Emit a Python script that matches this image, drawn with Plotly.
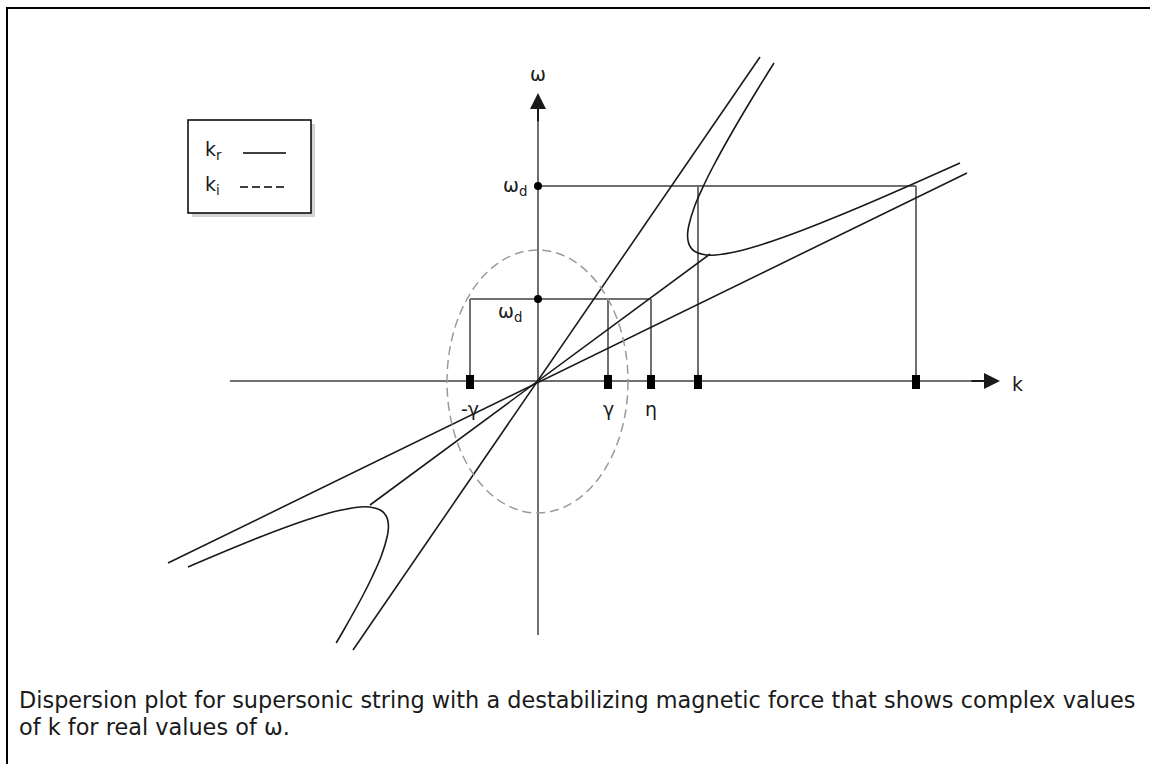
import plotly.graph_objects as go

# Schematic dispersion diagram, units are arbitrary (k to the right, omega up,
# origin where the two axes cross).

# axes extents (tail, tip)
K_AXIS = [-308, 462]
W_AXIS = [-254, 288]

# straight lines through the origin
STEEP_K = [-185, 222]
STEEP_W = [-269, 324]
SHALLOW_K = [-370, 429]
SHALLOW_W = [-182, 208]
MIDDLE_K = [-168, 172]
MIDDLE_W = [-124, 127]

# upper-right branch of k_r(omega)
UPPER_K = [236, 218.6, 194.8, 175.4, 165.4, 156.7, 150.7, 149.6, 150.1, 151.8, 156.1,
           168.4, 177.8, 201.1, 219.2, 234.6, 254.3, 275.3, 324.2, 370.4, 422]
UPPER_W = [318, 290, 250, 215, 195, 175, 155, 147, 140, 135, 130,
           126, 126, 130, 135, 140, 147, 155, 175, 195, 218]

# lower-left branch
LOWER_K = [-201.8, -194.8, -175.4, -165.4, -156.7, -150.7, -149.6, -150.1, -151.8, -156.1,
           -168.4, -177.8, -201.1, -219.2, -234.6, -254.3, -275.3, -324.2, -350]
LOWER_W = [-262, -250, -215, -195, -175, -155, -147, -140, -135, -130,
           -126, -126, -130, -135, -140, -147, -155, -175, -186]

# omega_d levels and the k values they map to
WD_LEVELS = [195, 82]
WD_HIGH_K = [160, 378]
WD_LOW_K = [-68, 70, 113]
TICK_LABELS = ["-γ", "γ", "η"]

# dashed ellipse (imaginary part k_i), semi axes
ELL_K = [-91, 90]
ELL_W = [-132, 131]

CURVE = dict(color="#1a1a1a", width=1.6)
GREY = dict(color="#6f6f6f", width=2)

traces = []

# bracket lines from omega_d down to the k axis
bx, by = [], []
bx += [0, max(WD_HIGH_K), None]
by += [WD_LEVELS[0], WD_LEVELS[0], None]
for k in WD_HIGH_K:
    bx += [k, k, None]
    by += [WD_LEVELS[0], 0, None]
bx += [min(WD_LOW_K), max(WD_LOW_K), None]
by += [WD_LEVELS[1], WD_LEVELS[1], None]
for k in WD_LOW_K:
    bx += [k, k, None]
    by += [WD_LEVELS[1], 0, None]
traces.append(go.Scatter(x=bx, y=by, mode="lines", line=GREY, hoverinfo="skip"))

# axes tails
traces.append(go.Scatter(x=[K_AXIS[0], K_AXIS[1] - 10], y=[0, 0], mode="lines", line=GREY, hoverinfo="skip"))
traces.append(go.Scatter(x=[0, 0], y=[W_AXIS[0], W_AXIS[1] - 10], mode="lines", line=GREY, hoverinfo="skip"))

for xs, ys in [(STEEP_K, STEEP_W), (SHALLOW_K, SHALLOW_W), (MIDDLE_K, MIDDLE_W)]:
    traces.append(go.Scatter(x=xs, y=ys, mode="lines", line=CURVE, hoverinfo="skip"))

traces.append(go.Scatter(x=UPPER_K, y=UPPER_W, mode="lines",
                         line=dict(CURVE, shape="spline", smoothing=1.0), hoverinfo="skip"))
traces.append(go.Scatter(x=LOWER_K, y=LOWER_W, mode="lines",
                         line=dict(CURVE, shape="spline", smoothing=1.0), hoverinfo="skip"))

# omega_d dots
traces.append(go.Scatter(x=[0] * len(WD_LEVELS), y=WD_LEVELS, mode="markers",
                         marker=dict(size=8, color="black"), hoverinfo="skip"))

fig = go.Figure(data=traces)

shapes = []
shapes.append(dict(type="circle", xref="x", yref="y", x0=ELL_K[0], x1=ELL_K[1], y0=ELL_W[0], y1=ELL_W[1],
                   line=dict(color="#9a9a9a", width=1.5, dash="9px,5px")))
for k in WD_HIGH_K + WD_LOW_K:
    shapes.append(dict(type="rect", xref="x", yref="y", x0=k - 4, x1=k + 4, y0=-8, y1=6,
                       fillcolor="black", line=dict(width=0)))

# legend box with drop shadow
shapes.append(dict(type="rect", xref="x", yref="y", x0=-346, x1=-223, y0=164, y1=257,
                   fillcolor="#d4d4d4", line=dict(width=0)))
shapes.append(dict(type="rect", xref="x", yref="y", x0=-350, x1=-227, y0=168, y1=261,
                   fillcolor="white", line=dict(color="black", width=1.5)))
shapes.append(dict(type="line", xref="x", yref="y", x0=-295, x1=-252, y0=228, y1=228,
                   line=dict(color="black", width=1.3)))
shapes.append(dict(type="line", xref="x", yref="y", x0=-298, x1=-252, y0=194, y1=194,
                   line=dict(color="black", width=1.3, dash="8px,4px")))

# outer frame (top and left edges)
shapes.append(dict(type="line", xref="paper", yref="paper", x0=6 / 1150, x1=1, y0=1 - 8 / 764, y1=1 - 8 / 764,
                   line=dict(color="black", width=2)))
shapes.append(dict(type="line", xref="paper", yref="paper", x0=7 / 1150, x1=7 / 1150, y0=0, y1=1 - 8 / 764,
                   line=dict(color="black", width=2)))

FONT = dict(family="DejaVu Sans, Verdana, sans-serif", size=19, color="#1a1a1a")

ann = []
# arrowheads on the axes
ann.append(dict(x=K_AXIS[1], y=0, ax=K_AXIS[1] - 30, ay=0, xref="x", yref="y", axref="x", ayref="y",
                showarrow=True, arrowhead=2, arrowsize=1.6, arrowwidth=2, arrowcolor="#1a1a1a", text=""))
ann.append(dict(x=0, y=W_AXIS[1], ax=0, ay=W_AXIS[1] - 30, xref="x", yref="y", axref="x", ayref="y",
                showarrow=True, arrowhead=2, arrowsize=1.6, arrowwidth=2, arrowcolor="#1a1a1a", text=""))
ann.append(dict(x=K_AXIS[1] + 17, y=-3, text="k", showarrow=False, font=FONT, xanchor="center"))
ann.append(dict(x=0, y=W_AXIS[1] + 19, text="ω", showarrow=False, font=FONT))
ann.append(dict(x=-9, y=WD_LEVELS[0], text="ω<sub>d</sub>", showarrow=False, font=FONT, xanchor="right"))
ann.append(dict(x=-14, y=WD_LEVELS[1] - 13, text="ω<sub>d</sub>", showarrow=False, font=FONT, xanchor="right"))
for k, lab in zip(WD_LOW_K, TICK_LABELS):
    ann.append(dict(x=k, y=-28, text=lab, showarrow=False, font=FONT))
ann.append(dict(x=-335, y=231, text="k<sub>r</sub>", showarrow=False, font=FONT, xanchor="left"))
ann.append(dict(x=-335, y=196, text="k<sub>i</sub>", showarrow=False, font=FONT, xanchor="left"))

CAPTION = ["Dispersion plot for supersonic string with a destabilizing magnetic force that shows complex values",
           "of k for real values of ω."]
for i, line in enumerate(CAPTION):
    ann.append(dict(xref="paper", yref="paper", x=17 / 1150, y=1 - (700 + 27 * i) / 764,
                    xanchor="left", yanchor="middle", text=line, showarrow=False,
                    font=dict(FONT, size=22.4)))

fig.update_layout(
    width=1150, height=764,
    margin=dict(l=0, r=0, t=0, b=0),
    paper_bgcolor="white", plot_bgcolor="white",
    showlegend=False,
    xaxis=dict(range=[-538, 612], visible=False, fixedrange=True),
    yaxis=dict(range=[-383, 381], visible=False, fixedrange=True),
    shapes=shapes,
    annotations=ann,
)

fig.write_html("out.html", config={"displayModeBar": False},
               post_script="document.body.style.margin='0';")
